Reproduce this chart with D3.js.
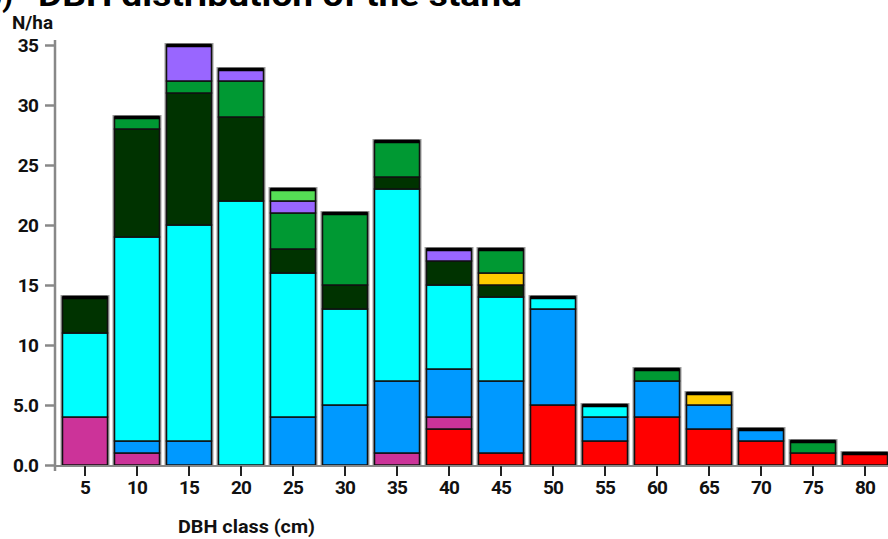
<!DOCTYPE html>
<html><head><meta charset="utf-8">
<script src="https://cdn.jsdelivr.net/npm/d3@7"></script>
<style>body{margin:0;background:#fff}svg{display:block}text{font-family:Roboto,"Liberation Sans",sans-serif}</style>
</head><body>
<svg id="c" width="888" height="539"></svg>
<script>
const classes = ["5","10","15","20","25","30","35","40","45","50","55","60","65","70","75","80"];
const seriesNames = ["red","magenta","blue","cyan","darkgreen","yellow","green","purple","lightgreen"];
const seriesColors = ["#ff0000","#cc3399","#0099ff","#00ffff","#003300","#ffcc00","#009933","#9966ff","#55dd55"];
const red       = [0,0,0,0,0,0,0,3,1,5,2,4,3,2,1,1];
const magenta   = [4,1,0,0,0,0,1,1,0,0,0,0,0,0,0,0];
const blue      = [0,1,2,0,4,5,6,4,6,8,2,3,2,1,0,0];
const cyan      = [7,17,18,22,12,8,16,7,7,1,1,0,0,0,0,0];
const darkgreen = [3,9,11,7,2,2,1,2,1,0,0,0,0,0,0,0];
const yellow    = [0,0,0,0,0,0,0,0,1,0,0,0,1,0,0,0];
const green     = [0,1,1,3,3,6,3,0,2,0,0,1,0,0,1,0];
const purple    = [0,0,3,1,1,0,0,1,0,0,0,0,0,0,0,0];
const lightgreen= [0,0,0,0,1,0,0,0,0,0,0,0,0,0,0,0];
const yTicks = [0,5,10,15,20,25,30,35];
const yTickLabels = ["0.0","5.0","10","15","20","25","30","35"];

const seriesVals = [red,magenta,blue,cyan,darkgreen,yellow,green,purple,lightgreen];
const table = classes.map((c,i)=>{const o={cls:c}; seriesNames.forEach((s,j)=>o[s]=seriesVals[j][i]); return o;});
const stack = d3.stack().keys(seriesNames)(table);
const totals = table.map(d=>d3.sum(seriesNames,s=>d[s]));

const svg = d3.select("#c");
const x = d3.scaleBand().domain(classes).range([59,891]).paddingInner(0.135).paddingOuter(0.0675);
const y = d3.scaleLinear().domain([0,35]).range([465,45]);

// title
svg.append("text").attr("x",-16).attr("y",6).attr("font-size",32).attr("font-weight","bold")
  .attr("font-family","'Liberation Sans',Arial,sans-serif").text("b)");
svg.append("text").attr("x",38).attr("y",6).attr("font-size",32).attr("font-weight","bold")
  .attr("font-family","'Liberation Sans',Arial,sans-serif").attr("textLength",484).attr("lengthAdjust","spacingAndGlyphs").text("DBH distribution of the stand");

// halo behind bars
svg.append("g").selectAll("rect").data(table).join("rect")
  .attr("x",d=>x(d.cls)).attr("width",x.bandwidth())
  .attr("y",(d,i)=>y(totals[i])).attr("height",(d,i)=>y(0)-y(totals[i]))
  .attr("fill","none").attr("stroke","#9a9a9a").attr("stroke-width",4);

// segments
const g = svg.append("g");
stack.forEach((layer,j)=>{
  g.append("g").selectAll("rect").data(layer.filter(d=>d[1]-d[0]>0)).join("rect")
    .attr("x",d=>x(d.data.cls)).attr("width",x.bandwidth())
    .attr("y",d=>y(d[1])).attr("height",d=>y(d[0])-y(d[1]))
    .attr("fill",seriesColors[j]).attr("stroke","#111").attr("stroke-width",1.5);
});
// top caps
svg.append("g").selectAll("line").data(table).join("line")
  .attr("x1",d=>x(d.cls)).attr("x2",d=>x(d.cls)+x.bandwidth())
  .attr("y1",(d,i)=>y(totals[i])+0.5).attr("y2",(d,i)=>y(totals[i])+0.5)
  .attr("stroke","#000").attr("stroke-width",3.5);

// y axis
const yAxis = svg.append("g").attr("transform","translate(55,0)")
  .call(d3.axisLeft(y).tickValues(yTicks).tickFormat((d,i)=>yTickLabels[i]).tickSize(10).tickPadding(7));
yAxis.select(".domain").attr("stroke","#888").attr("stroke-width",2.5).attr("d","M0,40V471");
yAxis.selectAll(".tick line").attr("stroke","#888").attr("stroke-width",2.5);
yAxis.selectAll(".tick text").attr("font-size",19).attr("font-weight","bold").attr("fill","#111")
  .attr("font-family","Roboto,sans-serif").attr("dy","0.35em").style("letter-spacing","-0.8px");

// x axis
const xAxis = svg.append("g").attr("transform","translate(0,466)")
  .call(d3.axisBottom(x).tickSize(10).tickPadding(5));
xAxis.select(".domain").attr("stroke","#888").attr("stroke-width",2).attr("d","M55,0H888");
xAxis.selectAll(".tick line").attr("stroke","#222").attr("stroke-width",2);
xAxis.selectAll(".tick text").attr("font-size",19).attr("font-weight","bold").attr("fill","#111")
  .attr("font-family","Roboto,sans-serif").style("letter-spacing","-0.8px");

svg.append("text").attr("x",178).attr("y",533).attr("font-size",19).attr("font-weight","bold")
  .attr("fill","#111").attr("textLength",137).attr("lengthAdjust","spacingAndGlyphs").text("DBH class (cm)");
svg.append("text").attr("x",12).attr("y",29).attr("font-size",18).attr("font-weight","bold")
  .attr("fill","#111").attr("textLength",41).attr("lengthAdjust","spacingAndGlyphs").text("N/ha");
</script>
</body></html>
